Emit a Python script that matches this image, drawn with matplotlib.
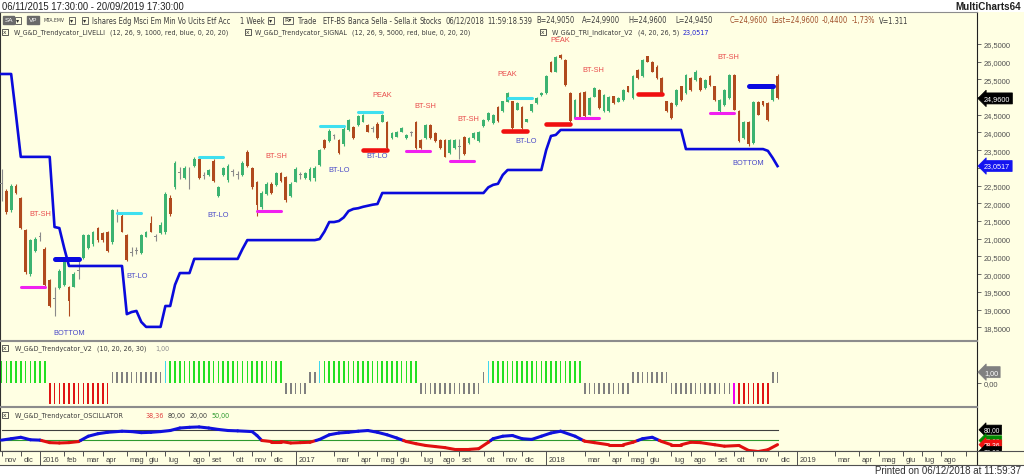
import datetime as dt
import numpy as np
import matplotlib
matplotlib.use("Agg")
import matplotlib.pyplot as plt
from matplotlib.patches import Rectangle
from matplotlib import font_manager
from matplotlib.font_manager import FontProperties
import matplotlib.transforms as mtrans

# ------------------------------------------------------------------ data
first_bar_date = "2015-11-06"   # weekly bars (Fridays)

opens = [22.55, 22.35, 21.80, 22.50, 22.15, 21.25, 20.00, 20.65, 21.05, 20.72,
         19.83, 19.30, 19.60, 19.70, 19.65, 19.65, 20.10, 20.45, 20.75, 20.85,
         21.30, 21.15, 21.20, 20.90, 21.70, 21.65, 21.10, 20.60, 20.65, 20.60,
         21.05, 21.45, 21.05, 21.15, 21.20, 22.15, 22.45, 22.85, 22.70, 22.70,
         23.05, 23.25, 22.78, 22.80, 23.20, 22.20, 22.80, 22.65, 22.88, 22.80,
         22.80, 23.45, 23.00, 22.60, 21.90, 22.25, 22.55, 22.52, 22.85, 22.75,
         22.20, 22.60, 22.80, 22.70, 22.66, 22.70, 23.08, 23.78, 23.75, 23.90,
         23.78, 23.66, 24.08, 24.15, 24.20, 24.30, 24.22, 24.10, 24.25, 24.30,
         24.30, 23.84, 23.88, 24.02, 23.84, 23.98, 24.30, 23.80, 23.85, 24.20,
         23.98, 23.80, 23.78, 23.42, 23.55, 23.60, 23.88, 23.70, 23.84, 23.75,
         24.17, 24.35, 24.26, 24.72, 24.60, 24.87, 24.88, 24.64, 24.72, 24.30,
         24.60, 24.82, 25.05, 25.10, 26.00, 25.72, 26.20, 26.05, 25.10, 24.40,
         25.10, 25.15, 24.50, 25.00, 25.20, 24.60, 24.60, 25.02, 24.86, 24.92,
         25.30, 24.98, 25.77, 25.58, 26.15, 26.00, 25.86, 25.53, 24.88, 24.83,
         24.78, 25.30, 25.12, 25.53, 25.48, 25.53, 25.25, 25.58, 25.30, 24.60,
         24.78, 24.98, 25.62, 24.60, 23.84, 24.30, 23.70, 24.85, 24.88, 24.82,
         24.92, 25.60]
highs = [22.97, 22.40, 22.55, 22.55, 22.17, 21.27, 20.99, 21.04, 21.18, 20.76,
         19.86, 19.63, 20.14, 20.43, 19.67, 20.05, 20.38, 21.13, 21.13, 21.23,
         21.32, 21.18, 21.23, 21.84, 21.84, 21.70, 21.13, 20.76, 20.76, 21.13,
         21.23, 21.65, 21.13, 21.46, 22.31, 22.22, 23.20, 23.02, 23.06, 23.02,
         23.30, 23.30, 22.88, 22.97, 23.25, 22.50, 23.02, 23.11, 22.97, 22.92,
         23.20, 23.49, 23.02, 22.64, 22.36, 22.59, 22.59, 22.88, 22.88, 22.78,
         22.59, 23.02, 22.88, 22.88, 23.02, 23.06, 23.53, 23.82, 24.10, 23.96,
         23.82, 24.15, 24.38, 24.19, 24.48, 24.52, 24.24, 24.19, 24.29, 24.52,
         24.33, 24.00, 24.05, 24.15, 23.96, 24.05, 24.33, 23.82, 24.24, 24.24,
         24.00, 23.82, 23.82, 23.82, 23.82, 23.82, 23.91, 23.86, 24.00, 24.05,
         24.38, 24.57, 24.52, 24.76, 24.90, 25.13, 24.90, 24.85, 24.76, 24.38,
         24.81, 24.99, 25.13, 25.61, 26.03, 26.17, 26.22, 26.08, 25.13, 24.95,
         25.13, 25.18, 24.99, 25.28, 25.23, 25.09, 25.04, 25.04, 24.99, 25.23,
         25.32, 25.61, 25.79, 26.08, 26.17, 26.03, 25.89, 25.56, 24.90, 24.85,
         25.23, 25.32, 25.65, 25.56, 25.75, 25.56, 25.51, 25.61, 25.32, 24.95,
         25.23, 25.65, 25.65, 24.62, 24.33, 24.33, 24.90, 24.90, 24.90, 24.85,
         25.32, 25.65]
lows = [22.07, 21.70, 21.75, 22.26, 21.27, 20.00, 19.96, 20.62, 20.94, 19.67,
        19.06, 18.83, 19.58, 19.67, 18.83, 19.63, 19.86, 20.43, 20.71, 20.80,
        20.90, 20.90, 20.62, 20.85, 21.46, 21.18, 20.38, 20.52, 20.57, 20.57,
        21.04, 21.18, 20.94, 21.13, 21.13, 21.65, 22.40, 22.69, 22.69, 22.40,
        23.02, 22.69, 22.69, 22.78, 22.59, 22.17, 22.78, 22.59, 22.78, 22.69,
        22.78, 23.02, 22.40, 21.65, 21.84, 22.22, 22.26, 22.50, 22.59, 22.03,
        22.17, 22.59, 22.69, 22.69, 22.64, 22.64, 23.06, 23.53, 23.72, 23.82,
        23.39, 23.63, 24.05, 23.82, 24.19, 24.29, 24.00, 24.00, 23.82, 24.29,
        23.53, 23.82, 23.86, 24.00, 23.82, 23.91, 23.53, 23.53, 23.82, 23.82,
        23.72, 23.53, 23.30, 23.39, 23.53, 23.25, 23.35, 23.68, 23.82, 23.72,
        24.15, 24.33, 24.24, 24.29, 24.57, 24.85, 24.10, 24.62, 24.10, 24.29,
        24.57, 24.81, 25.04, 25.09, 25.70, 25.70, 26.08, 25.32, 24.29, 24.38,
        24.38, 24.43, 24.48, 24.99, 24.66, 24.57, 24.57, 24.81, 24.85, 24.90,
        25.13, 24.95, 25.51, 25.56, 25.98, 25.70, 25.51, 25.09, 24.57, 24.38,
        24.76, 24.90, 25.09, 25.18, 25.46, 25.18, 25.23, 25.32, 24.90, 24.57,
        24.76, 24.95, 24.62, 23.72, 23.82, 23.63, 23.68, 24.48, 24.76, 24.33,
        24.90, 24.95]
closes = [22.55, 21.75, 22.50, 22.30, 21.30, 20.05, 20.95, 21.00, 21.05, 19.70,
          19.10, 19.30, 20.10, 20.40, 19.25, 20.00, 20.10, 21.10, 21.10, 21.20,
          20.95, 20.95, 20.65, 21.80, 21.70, 21.20, 20.40, 20.60, 20.65, 21.10,
          21.20, 21.20, 21.05, 21.40, 22.25, 21.70, 23.15, 22.85, 23.00, 22.70,
          23.25, 22.70, 22.78, 22.95, 22.62, 22.45, 23.00, 23.05, 22.88, 22.80,
          23.15, 23.05, 22.45, 21.95, 22.30, 22.55, 22.30, 22.85, 22.62, 22.10,
          22.55, 22.98, 22.80, 22.85, 22.98, 23.00, 23.50, 23.55, 24.05, 23.90,
          23.42, 24.10, 24.35, 23.85, 24.45, 24.50, 24.02, 24.10, 23.85, 24.50,
          23.55, 23.98, 24.02, 24.12, 23.94, 23.98, 23.56, 23.56, 24.20, 23.85,
          23.75, 23.55, 23.32, 23.78, 23.80, 23.60, 23.40, 23.84, 23.98, 24.02,
          24.36, 24.55, 24.50, 24.32, 24.88, 25.10, 24.12, 24.83, 24.12, 24.37,
          24.79, 24.97, 25.12, 25.58, 25.72, 26.14, 26.10, 25.35, 24.32, 24.92,
          24.40, 24.45, 24.97, 25.25, 24.70, 25.06, 25.00, 24.83, 24.97, 25.20,
          25.15, 25.58, 25.53, 26.05, 26.00, 25.72, 25.53, 25.10, 24.60, 24.40,
          25.20, 24.92, 25.62, 25.20, 25.72, 25.20, 25.48, 25.34, 24.92, 24.92,
          25.20, 25.62, 24.64, 23.75, 24.30, 23.66, 24.85, 24.50, 24.78, 24.35,
          25.30, 24.96]

# W_G&D_TRI_Indicator_V2 (blue step line)
trend_level = [25.65, 25.65, 25.65, 24.50, 23.31, 23.31, 23.31, 23.31, 23.31, 23.31,
               23.31, 21.33, 21.30, 20.74, 20.23, 20.23, 20.23, 20.23, 20.23, 20.23,
               20.23, 20.23, 20.23, 20.23, 20.23, 20.23, 18.87, 18.93, 18.96, 18.65,
               18.51, 18.51, 18.51, 18.51, 19.10, 19.10, 19.70, 20.03, 20.03, 20.03,
               20.43, 20.43, 20.43, 20.43, 20.43, 20.43, 20.43, 20.43, 20.43, 20.43,
               20.71, 20.96, 20.96, 20.96, 20.96, 20.96, 20.96, 20.96, 20.96, 20.96,
               20.96, 20.96, 20.96, 20.96, 20.96, 20.96, 20.99, 21.20, 21.47, 21.47,
               21.50, 21.60, 21.78, 21.84, 21.86, 21.90, 21.93, 21.96, 21.98, 22.29,
               22.29, 22.29, 22.29, 22.29, 22.29, 22.29, 22.29, 22.29, 22.29, 22.29,
               22.29, 22.29, 22.29, 22.29, 22.29, 22.29, 22.29, 22.29, 22.29, 22.29,
               22.29, 22.45, 22.52, 22.55, 22.80, 22.94, 22.94, 22.94, 22.94, 22.94,
               22.94, 22.94, 22.94, 23.50, 23.90, 23.93, 24.07, 24.07, 24.07, 24.07,
               24.07, 24.07, 24.07, 24.07, 24.07, 24.07, 24.07, 24.07, 24.07, 24.07,
               24.07, 24.07, 24.07, 24.07, 24.07, 24.07, 24.07, 24.07, 24.07, 24.07,
               24.07, 24.07, 23.53, 23.53, 23.53, 23.53, 23.53, 23.53, 23.53, 23.53,
               23.53, 23.53, 23.53, 23.53, 23.53, 23.53, 23.53, 23.53, 23.53, 23.48,
               23.28, 23.05]

# horizontal signal levels (bar start, bar end, price)
cyan_start = [24, 41, 66, 74, 105]
cyan_end = [29, 46, 71, 79, 110]
cyan_price = [21.73, 23.31, 24.18, 24.58, 24.97]
magenta_start = [4, 53, 84, 93, 119, 147]
magenta_end = [9, 58, 89, 98, 124, 152]
magenta_price = [19.64, 21.79, 23.47, 23.19, 24.40, 24.54]
redlvl_start = [75, 104, 113, 132]
redlvl_end = [80, 109, 118, 137]
redlvl_price = [23.51, 24.05, 24.24, 25.09]
bluelvl_start = [11, 155]
bluelvl_end = [16, 160]
bluelvl_price = [20.43, 25.30]

# chart annotations
label_text = ["BT-SH", "BT-SH", "BT-SH", "BT-SH", "BT-SH", "BT-SH",
              "PEAK", "PEAK", "PEAK",
              "BOTTOM", "BT-LO", "BT-LO", "BT-LO", "BT-LO", "BT-LO", "BOTTOM"]
label_bar = [8.0, 57.0, 88.0, 96.8, 122.7, 150.7,
             79.0, 105.0, 115.9,
             14.0, 28.1, 45.0, 70.0, 78.0, 108.8, 154.9]
label_price = [21.70, 23.34, 24.75, 24.38, 25.79, 26.13,
               25.06, 25.65, 26.63,
               18.34, 19.95, 21.67, 22.94, 23.34, 23.76, 23.14]
label_side = ["up", "up", "up", "up", "up", "up",
              "up", "up", "up",
              "dn", "dn", "dn", "dn", "dn", "dn", "dn"]

# W_G&D_Trendycator_V2 state runs
trend_codes = ["G", "R", "U", "C", "G", "D", "U", "C", "G", "D",
               "U", "C", "G", "D", "U", "D", "M", "R", "U"]
trend_lengths = [10, 13, 11, 1, 24, 5, 2, 1, 20, 13,
                 1, 1, 19, 10, 8, 13, 1, 7, 2]
code_value = {"G": 2, "C": 2, "U": 1, "D": -1, "R": -2, "M": -2}

# W_G&D_Trendycator_OSCILLATOR
osc_bar = [0, 2, 4, 6, 8, 10, 12, 14, 16, 18, 20, 22, 25, 27, 29, 31, 33, 35, 37, 39,
           41, 43, 45, 47, 49, 52, 53, 54, 56, 58, 60, 62, 64, 66, 68, 70, 72, 74, 76, 78,
           80, 82, 84, 86, 88, 90, 92, 94, 97, 99, 101, 102, 104, 106, 108, 110, 112, 114,
           116, 119, 121, 123, 126, 129, 131, 133, 135, 137, 139, 141, 143, 145, 148, 150,
           153, 155, 157, 159, 161]
osc_val = [51, 55, 59, 52, 51, 44, 43, 44, 47, 62, 69, 73, 76, 75, 72, 73, 75, 78, 85, 87,
           88, 85, 81, 78, 77, 75, 64, 50, 47, 47, 43, 44, 45, 53, 66, 71, 73, 76, 78, 73,
           66, 57, 47, 41, 36, 33, 30, 25, 25, 27, 45, 55, 62, 64, 55, 53, 62, 71,
           76, 62, 48, 44, 38, 38, 45, 55, 59, 47, 38, 38, 45, 44, 38, 34,
           36, 22, 19, 24, 38.36]
osc_upper, osc_mid, osc_lower = 80, 50, 20

price_ticks = [18.5, 19.0, 19.5, 20.0, 20.5, 21.0, 21.5, 22.0, 22.5,
               23.0, 23.5, 24.0, 24.5, 25.0, 25.5, 26.0, 26.5]
last_price = 24.96
tri_last = 23.0517
v2_last = 1.00

tick_months = ["2015-11", "2015-12", "2016-01", "2016-02", "2016-03", "2016-04", "2016-05",
               "2016-06", "2016-07", "2016-08", "2016-09", "2016-10", "2016-11", "2016-12",
               "2017-01", "2017-03", "2017-04", "2017-05", "2017-06", "2017-07", "2017-08",
               "2017-09", "2017-10", "2017-11", "2017-12", "2018-01", "2018-03", "2018-04",
               "2018-05", "2018-06", "2018-07", "2018-08", "2018-09", "2018-10", "2018-11",
               "2018-12", "2019-01", "2019-03", "2019-04", "2019-05", "2019-06", "2019-07",
               "2019-08", "2019-09"]
tick_labels = ["nov", "dic", "2016", "feb", "mar", "apr", "mag", "giu", "lug", "ago", "set",
               "ott", "nov", "dic", "2017", "mar", "apr", "mag", "giu", "lug", "ago", "set",
               "ott", "nov", "dic", "2018", "mar", "apr", "mag", "giu", "lug", "ago", "set",
               "ott", "nov", "dic", "2019", "mar", "apr", "mag", "giu", "lug", "ago", ""]

# ------------------------------------------------------------------ style
W, H = 1024, 477
PXW = 4.82            # px per weekly bar
X0PX = 1.5            # px of first bar
CREAM = "#FFFFE3"
TXT = "#3C3C3C"
C_UP, C_DN, C_EQ = "#3CB371", "#B04A1E", "#8A8A8A"
BLUE = "#0A0ADC"
plt.rcParams["font.family"] = ["Liberation Sans", "DejaVu Sans"]


def _regular(w):
    try:
        return int(w) == 400
    except (TypeError, ValueError):
        return str(w).lower() in ("normal", "regular", "book")


def find_narrow():
    ents = font_manager.fontManager.ttflist
    for e in ents:
        if e.name == "Liberation Sans Narrow" and e.style == "normal" and _regular(e.weight):
            return e.fname
    for want in ("semi-condensed", "condensed"):
        for nm in ("DejaVu Sans", "Noto Sans", "Open Sans", "Roboto", "Lato"):
            for e in ents:
                if (e.name == nm and e.style == "normal" and _regular(e.weight)
                        and str(e.stretch) == want):
                    return e.fname
    return None


_nf = find_narrow()
FP_N = FontProperties(fname=_nf) if _nf else FontProperties(family="Liberation Sans")
FP_R = FontProperties(family="Liberation Sans")

fig = plt.figure(figsize=(W / 100, H / 100), dpi=100)
fig.patch.set_facecolor("white")
RENDER = fig.canvas.get_renderer()


def rect(x0, y0, x1, y1):
    return [x0 / W, 1 - y1 / H, (x1 - x0) / W, (y1 - y0) / H]


def ftxt(x0, x1, y, s, color=TXT, size=5.4, fp=None, ha="left", weight="normal"):
    """Place a text; return (text, size that would make it span x0..x1)."""
    prop = (fp or FP_N).copy()
    prop.set_size(size)
    prop.set_weight(weight)
    xa = x0 if ha == "left" else x1
    t = fig.text(xa / W, 1 - y / H, s, color=color, fontproperties=prop, va="center", ha=ha)
    w = t.get_window_extent(RENDER).width
    return t, size * (x1 - x0) / w if w > 0 else size


def fit_group(items, boost=1.12, gap=4, own=()):
    """Common font size for a group of texts; push pieces right if they would collide."""
    sizes = sorted(s for _, s in items)
    med = sizes[len(sizes) // 2] * boost
    for k, (t, s) in enumerate(items):
        t.set_fontsize(min(s, med) if k in own else med)
    rows = {}
    for t, _ in items:
        rows.setdefault(round(t.get_position()[1], 4), []).append(t)
    for row in rows.values():
        row.sort(key=lambda tt: tt.get_position()[0])
        prev_end = -1e9
        for t in row:
            x, y = t.get_position()
            if x * W < prev_end + gap:
                t.set_position(((prev_end + gap) / W, y))
            prev_end = t.get_window_extent(RENDER).x1


def checkbox(x, y):
    fig.add_artist(Rectangle((x / W, 1 - (y + 3) / H), 6 / W, 6 / H, fill=False,
                             ec="#404040", lw=0.6, transform=fig.transFigure))
    fig.text((x + 3) / W, 1 - y / H, "x", fontsize=4.2, color="#303030",
             ha="center", va="center", family=["DejaVu Sans"])


def dropbox(x, y, s="\u25be", w=6):
    fig.add_artist(Rectangle((x / W, 1 - (y + 3.5) / H), w / W, 7 / H, fill=False,
                             ec="#505050", lw=0.6, transform=fig.transFigure))
    fig.text((x + w / 2) / W, 1 - y / H, s, fontsize=4.5, color="#303030",
             ha="center", va="center", family=["DejaVu Sans"])


def fmt(v, nd):
    return f"{v:.{nd}f}".replace(".", ",")


XMIN = (0 - X0PX) / PXW
XMAX = (977 - X0PX) / PXW

fig.add_artist(Rectangle((0, 1 - 466 / H), 1, (466 - 13) / H, transform=fig.transFigure,
                         fc=CREAM, ec="none", zorder=-10))

# ------------------------------------------------------------------ main panel
ax = fig.add_axes(rect(0, 13, 977, 341))
ax.set_facecolor(CREAM)
ax.set_xlim(XMIN, XMAX)
ax.set_ylim(18.14, 27.40)
O, Hh, L, C = map(np.asarray, (opens, highs, lows, closes))
idx = np.arange(len(C))
cols = np.where(C > O, C_UP, np.where(C < O, C_DN, C_EQ))
ax.vlines(idx, L, Hh, colors=cols, lw=0.8, zorder=3)
ax.bar(idx, np.maximum(np.abs(C - O), 0.02), bottom=np.minimum(O, C), width=0.58,
       color=cols, lw=0, zorder=3)
ax.plot(idx, trend_level, color=BLUE, lw=1.9, zorder=4, solid_joinstyle="round")

for s_, e_, p_ in zip(cyan_start, cyan_end, cyan_price):
    ax.plot([s_, e_], [p_, p_], color="#3FE0F0", lw=2.2, solid_capstyle="round", zorder=5)
for s_, e_, p_ in zip(magenta_start, magenta_end, magenta_price):
    ax.plot([s_, e_], [p_, p_], color="#F020F0", lw=2.2, solid_capstyle="round", zorder=5)
for s_, e_, p_ in zip(redlvl_start, redlvl_end, redlvl_price):
    ax.plot([s_, e_], [p_, p_], color="#F01010", lw=3.3, solid_capstyle="round", zorder=5)
for s_, e_, p_ in zip(bluelvl_start, bluelvl_end, bluelvl_price):
    ax.plot([s_, e_], [p_, p_], color="#0A0AE0", lw=3.6, solid_capstyle="round", zorder=5)

for t_, b_, p_, sd in zip(label_text, label_bar, label_price, label_side):
    ax.text(b_, p_, t_, color="#E84A4A" if sd == "up" else "#4848C8", fontsize=5.3,
            ha="center", va="center", zorder=6)

ax.yaxis.tick_right()
ax.set_yticks(price_ticks)
ax.set_yticklabels(["" if min(abs(v - last_price), abs(v - tri_last)) < 0.2 else fmt(v, 4)
                    for v in price_ticks])
ax.tick_params(axis="y", direction="out", length=3, width=0.6, colors="#505050",
               labelsize=5.4, pad=1.5)
ax.tick_params(axis="x", bottom=False, labelbottom=False)
for sp in ("top", "bottom"):
    ax.spines[sp].set_color("#8C8C8C")
    ax.spines[sp].set_linewidth(0.8)
ax.spines["right"].set_color("#202020")
ax.spines["right"].set_linewidth(0.8)
ax.spines["left"].set_color("#303030")
ax.spines["left"].set_linewidth(0.8)

trm = mtrans.blended_transform_factory(ax.transAxes, ax.transData)
for val, fc in ((last_price, "black"), (tri_last, "#1414F0")):
    ax.text(1 + 7 / 977, val, fmt(val, 4), transform=trm, color="white", fontsize=5.2,
            va="center", ha="left", clip_on=False, zorder=10,
            bbox=dict(boxstyle="larrow,pad=0.28", fc=fc, ec=fc, lw=0.5))

# ------------------------------------------------------------------ trend state panel
ax2 = fig.add_axes(rect(0, 342, 977, 407))
ax2.set_facecolor(CREAM)
ax2.set_xlim(XMIN, XMAX)
ax2.set_ylim(-2.15, 3.9)
code_color = {"G": "#22E022", "C": "#3ED8F0", "U": "#808080", "D": "#808080",
              "R": "#E01414", "M": "#F000F0"}
st_codes = []
for c_, n_ in zip(trend_codes, trend_lengths):
    st_codes += [c_] * n_
st_vals = [code_value[c_] for c_ in st_codes]
st_cols = [code_color[c_] for c_ in st_codes]
ax2.bar(np.arange(len(st_vals)), st_vals, width=0.34, color=st_cols, lw=0)
ax2.yaxis.tick_right()
ax2.set_yticks([0])
ax2.set_yticklabels(["0,00"])
ax2.tick_params(axis="y", direction="out", length=3, width=0.6, colors="#505050",
                labelsize=5.4, pad=1.5)
ax2.tick_params(axis="x", bottom=False, labelbottom=False)
for sp in ("top", "bottom"):
    ax2.spines[sp].set_color("#8C8C8C")
    ax2.spines[sp].set_linewidth(0.8)
ax2.spines["right"].set_color("#202020")
ax2.spines["left"].set_color("#303030")
tr2 = mtrans.blended_transform_factory(ax2.transAxes, ax2.transData)
ax2.text(1 + 7 / 977, v2_last, fmt(v2_last, 2), transform=tr2, color="white", fontsize=5.2,
         va="center", ha="left", clip_on=False, zorder=10,
         bbox=dict(boxstyle="larrow,pad=0.28", fc="#808080", ec="#808080", lw=0.5))

# ------------------------------------------------------------------ oscillator panel
ax3 = fig.add_axes(rect(0, 408, 977, 452))
ax3.set_facecolor(CREAM)
ax3.set_xlim(XMIN, XMAX)
ax3.set_ylim(20.5, 144)
last_bar = len(C) - 1
ax3.plot([0, last_bar], [osc_upper, osc_upper], color="#404040", lw=0.8)
ax3.plot([0, last_bar], [osc_mid, osc_mid], color="#2E9A2E", lw=0.8)
ax3.plot([0, last_bar], [osc_lower, osc_lower], color="#202020", lw=0.8, clip_on=False)
for k in range(len(osc_bar) - 1):
    xa, xb = osc_bar[k], osc_bar[k + 1]
    ya, yb = osc_val[k], osc_val[k + 1]
    pieces = [((xa, ya), (xb, yb))]
    if (ya - osc_mid) * (yb - osc_mid) < 0:
        xm = xa + (osc_mid - ya) * (xb - xa) / (yb - ya)
        pieces = [((xa, ya), (xm, osc_mid)), ((xm, osc_mid), (xb, yb))]
    for (p1, p2) in pieces:
        above = (p1[1] + p2[1]) / 2 >= osc_mid
        ax3.plot([p1[0], p2[0]], [p1[1], p2[1]], color="#1010DD" if above else "#E01010",
                 lw=2.2, solid_capstyle="round", zorder=4)
ax3.set_xticks([])
ax3.set_yticks([])
ax3.spines["top"].set_color("#8C8C8C")
ax3.spines["bottom"].set_color("#505050")
ax3.spines["right"].set_color("#202020")
ax3.spines["left"].set_color("#303030")
tr3 = mtrans.blended_transform_factory(ax3.transAxes, ax3.transData)
# value markers, stacked like the platform does (later ones on top)
for val, fc in ((osc_upper, "black"), (osc_mid, "#008A00"), (osc_val[-1], "#F01010"),
                (osc_lower, "black")):
    ax3.text(1 + 7 / 977, val, fmt(val, 2), transform=tr3,
             color="white", fontsize=4.8, va="center", ha="left", clip_on=False, zorder=10,
             bbox=dict(boxstyle="larrow,pad=0.18", fc=fc, ec=fc, lw=0.5))

# ------------------------------------------------------------------ time axis strip
axx = fig.add_axes(rect(0, 452, 1024, 466))
axx.set_facecolor(CREAM)
axx.set_xlim(XMIN, (1024 - X0PX) / PXW)
axx.set_ylim(0, 1)
axx.set_xticks([])
axx.set_yticks([])
for sp in ("left", "right"):
    axx.spines[sp].set_visible(False)
axx.spines["top"].set_color("#505050")
axx.spines["bottom"].set_color("#505050")
start = dt.date.fromisoformat(first_bar_date)
for m_, lab in zip(tick_months, tick_labels):
    yy, mm = map(int, m_.split("-"))
    d0 = dt.date(yy, mm, 1)
    fri = d0 + dt.timedelta(days=(4 - d0.weekday()) % 7)
    bi = (fri - start).days / 7
    if lab.isdigit():
        axx.vlines(bi, 0, 1, color="#505050", lw=0.7)
    else:
        axx.vlines(bi, 0.62, 1, color="#505050", lw=0.7)
    axx.text(bi + 0.55, 0.42, lab, fontsize=5.4, color="#404040", ha="left", va="center")
axx.vlines((977 - X0PX) / PXW, 0, 1, color="#202020", lw=0.8)

# ------------------------------------------------------------------ texts
t_, s_ = ftxt(2, 185, 7, "06/11/2015 17:30:00 - 20/09/2019 17:30:00", color="#202020",
              size=6.6, fp=FP_R)
t_.set_fontsize(s_)
t_, s_ = ftxt(955, 1021, 7, "MultiCharts64", color="#202020", size=6.6, fp=FP_R, ha="right",
              weight="bold")
t_.set_fontsize(s_)
t_, s_ = ftxt(873, 1021, 471, "Printed on 06/12/2018 at 11:59:37", color="#303030",
              size=6.6, fp=FP_R, ha="right")
t_.set_fontsize(s_)

# status line
fig.text(8.5 / W, 1 - 21 / H, "SA", fontsize=4.6, color="white", ha="center", va="center",
         bbox=dict(boxstyle="square,pad=0.25", fc="#6A6A6A", ec="#6A6A6A"))
dropbox(15, 21)
fig.text(33 / W, 1 - 21 / H, "VP", fontsize=4.6, color="white", ha="center", va="center",
         bbox=dict(boxstyle="square,pad=0.25", fc="#6A6A6A", ec="#6A6A6A"))
dropbox(69, 21)
dropbox(82, 21)
dropbox(268, 21)
dropbox(283, 21, "R\u25be", w=10)
BRN = "#A0502A"
status = [(43, 64, "MTA.EMV", TXT),
          (92, 233, "Ishares Edg Msci Em Min Vo Ucits Etf Acc", TXT),
          (240, 263, "1 Week", TXT),
          (298, 315, "Trade", TXT), (322, 343, "ETF-BS", TXT),
          (348, 413, "Banca Sella - Sella.it", TXT),
          (419, 438, "Stocks", TXT), (443, 480, "06/12/2018", TXT),
          (487, 532, "11:59:18.539", TXT),
          (536, 570, "B=24,9050", TXT), (582, 617, "A=24,9900", TXT),
          (628, 663, "H=24,9600", TXT), (675, 710, "L=24,9450", TXT),
          (730, 765, "C=24,9600", BRN), (768, 810, "Last=24,9600", BRN),
          (814, 838, "-0,4400", BRN), (852, 873, "-1,73%", BRN), (878, 903, "V=1.311", TXT)]
fit_group([ftxt(x0_, x1_, 21, s_, color=c_) for x0_, x1_, s_, c_ in status], boost=1.1,
          gap=3, own=(0,))

# indicator legends
checkbox(2, 33)
checkbox(245, 33)
checkbox(540, 33)
checkbox(2, 349)
checkbox(2, 416)
legend_items = [
    (14, 90, 33, "W_G&D_Trendycator_LIVELLI", TXT),
    (97, 240, 33, "(12, 26, 9, 1000, red, blue, 0, 20, 20)", TXT),
    (255, 342, 33, "W_G&D_Trendycator_SIGNAL", TXT),
    (350, 532, 33, "(12, 26, 9, 5000, red, blue, 0, 20, 20)", TXT),
    (552, 615, 33, "W_G&D_TRI_Indicator_V2", TXT),
    (623, 663, 33, "(4, 20, 26, 5)", TXT),
    (667, 690, 33, "23,0517", "#2020D0"),
    (15, 90, 349, "W_G&D_Trendycator_V2", TXT),
    (97, 152, 349, "(10, 20, 26, 30)", TXT),
    (155, 167, 349, "1,00", "#909090"),
    (15, 133, 416, "W_G&D_Trendycator_OSCILLATOR", TXT),
    (145, 160, 416, "38,36", "#E04040"),
    (163, 178, 416, "80,00", "#404040"),
    (182, 197, 416, "20,00", "#404040"),
    (200, 215, 416, "50,00", "#2E9A2E"),
]
fit_group([ftxt(a, b, y, s, color=c) for a, b, y, s, c in legend_items], boost=1.15, gap=4)

fig.savefig("out.png", dpi=100, facecolor="white")
